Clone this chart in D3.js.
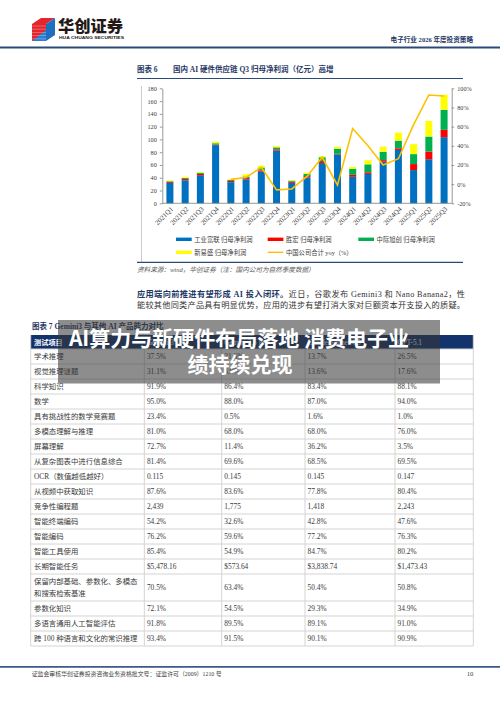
<!DOCTYPE html>
<html><head><meta charset="utf-8">
<script src="https://cdn.jsdelivr.net/npm/d3@7"></script>
<style>
html,body{margin:0;padding:0;background:#fff;}
svg{display:block;}
</style></head><body>
<svg id="page" width="500" height="706"></svg>
<script>
// ---------------- DATA ----------------
const quarters = ['2021Q1','2021Q2','2021Q3','2021Q4','2022Q1','2022Q2','2022Q3','2022Q4','2023Q1','2023Q2','2023Q3','2023Q4','2024Q1','2024Q2','2024Q3','2024Q4','2025Q1','2025Q2','2025Q3'];
const foxconnProfit   = [32,36,44,91,33,37.5,49.5,82.5,32,40.5,63,76.5,41.5,46,65,83.5,52,69,103.5];
const victoryProfit   = [1.5,2,2,1,2,2,2,2,2,2,3,1,3,2.5,2.6,2.6,9.4,12,11.5];
const innolightProfit = [1,1.5,1.5,2,1.5,2.5,4.5,3,1.5,3.5,6,8,9.5,12.5,13,12,15.6,23.5,31.3];
const eoptolinkProfit = [1.5,1.5,1.5,2.5,1,3.5,3,2,1,2,2,3,3,6.5,7.8,12.5,15.6,24.5,23.5];
const yoyPct = [null,null,null,null,5,7,17.5,-6,-5,8,28,-1,58,40,20,26.5,62,93,92];
const seriesNames = ['工业富联 归母净利润','胜宏 归母净利润','中际旭创 归母净利润','新易盛 归母净利润'];
const lineName = '中国公司合计 yoy（%）';
const leftTicks = [0,20,40,60,80,100,120,140,160,180];
const rightTicks = [-20,0,20,40,60,80,100];

const tableHeader = ['测试项目','Gemini 3 Pro','Gemini 2.5 Pro','Claude Sonnet 4.5','GPT-5.1'];
const tableItems = ['学术推理','视觉推理谜题','科学知识','数学','具有挑战性的数学竞赛题','多模态理解与推理','屏幕理解','从复杂图表中进行信息综合','OCR（数值越低越好）','从视频中获取知识','竞争性编程题','智能终端编码','智能编码','智能工具使用','长期智能任务','保留内部基础、参数化、多模态\n和搜索检索基准','参数化知识','多语言通用人工智能评估','跨 100 种语言和文化的常识推理'];
const gemini3  = ['37.5%','31.1%','91.9%','95.0%','23.4%','81.0%','72.7%','81.4%','0.115','87.6%','2,439','54.2%','76.2%','85.4%','$5,478.16','70.5%','72.1%','91.8%','93.4%'];
const gemini25 = ['21.6%','4.9%','86.4%','88.0%','0.5%','68.0%','11.4%','69.6%','0.145','83.6%','1,775','32.6%','59.6%','54.9%','$573.64','63.4%','54.5%','89.5%','91.5%'];
const claude45 = ['13.7%','13.6%','83.4%','87.0%','1.6%','68.0%','36.2%','68.5%','0.145','77.8%','1,418','42.8%','77.2%','84.7%','$3,838.74','50.4%','29.3%','89.1%','90.1%'];
const gpt51    = ['26.5%','17.6%','88.1%','94.0%','1.0%','76.0%','3.5%','69.5%','0.147','80.4%','2,243','47.6%','76.3%','80.2%','$1,473.43','50.8%','34.9%','91.0%','90.9%'];

// ---------------- STYLE ----------------
const SERIF = "'Liberation Serif','Noto Sans CJK SC',serif";
const SANS = "'Noto Sans CJK SC',sans-serif";
const NAVY = '#1f3864';
const barColors = ['#0070C0','#FF0000','#00B050','#FFFF00'];
const lineColor = '#FFC000';

const svg = d3.select('#page');
svg.append('rect').attr('width',500).attr('height',706).attr('fill','#fff');

// ---------------- HEADER ----------------
const logo = svg.append('g');
logo.append('polygon').attr('points','32,24 41,18 55,18 46,24').attr('fill','#e3262b');
logo.append('polygon').attr('points','46,24 55,18 55,35 46,41').attr('fill','#1f6fc0');
logo.append('polygon').attr('points','32,24 46,24 46,41 32,41').attr('fill','#e3262b');
logo.append('polygon').attr('points','32,41 46,30 46,41').attr('fill','#2a7fd0');
for (let i=0;i<5;i++){
  logo.append('line').attr('x1',32).attr('x2',46).attr('y1',26+i*3.2).attr('y2',26+i*3.2).attr('stroke','#fff').attr('stroke-width',0.5).attr('opacity',0.6);
}
svg.append('text').attr('x',58).attr('y',32).attr('font-family',SANS).attr('font-weight',900)
  .attr('font-size',16).attr('textLength',65).attr('lengthAdjust','spacingAndGlyphs').attr('fill','#231815').text('华创证券');
svg.append('text').attr('x',59).attr('y',39.3).attr('font-family',"'Liberation Sans',sans-serif").attr('font-weight',700)
  .attr('font-size',4).attr('textLength',65).attr('lengthAdjust','spacingAndGlyphs').attr('fill','#231815').text('HUA CHUANG SECURITIES');
svg.append('text').attr('x',473).attr('y',41.5).attr('text-anchor','end').attr('font-family',SERIF).attr('font-weight',700)
  .attr('font-size',6.6).attr('fill',NAVY).text('电子行业 2026 年度投资策略');
svg.append('line').attr('x1',0).attr('x2',500).attr('y1',47.5).attr('y2',47.5).attr('stroke','#2c4a78').attr('stroke-width',1.8);

// ---------------- FIGURE 6 TITLE ----------------
const t6 = svg.append('text').attr('x',137).attr('y',71.5).attr('font-family',SERIF).attr('font-weight',700)
  .attr('font-size',7.5).attr('fill',NAVY);
t6.append('tspan').text('图表 6');
t6.append('tspan').attr('x',173).text('国内 AI 硬件供应链 Q3 归母净利润（亿元）高增');
svg.append('line').attr('x1',137).attr('x2',463).attr('y1',78.5).attr('y2',78.5).attr('stroke','#2c4a78').attr('stroke-width',1.2);

// chart frame left border
svg.append('line').attr('x1',141.5).attr('x2',141.5).attr('y1',86).attr('y2',262).attr('stroke','#bfbfbf').attr('stroke-width',0.8);

// ---------------- CHART ----------------
const x = d3.scaleBand().domain(quarters).range([162.3,451.7]).paddingInner(0.54).paddingOuter(0.27);
const yL = d3.scaleLinear().domain([0,180]).range([203.3,88.3]);
const yR = d3.scaleLinear().domain([-20,100]).range([203.3,88.3]);

const rows = quarters.map((q,i)=>({q, s0:foxconnProfit[i], s1:victoryProfit[i], s2:innolightProfit[i], s3:eoptolinkProfit[i], yoy:yoyPct[i]}));
const stack = d3.stack().keys(['s0','s1','s2','s3'])(rows);

const chart = svg.append('g');
chart.selectAll('g.layer').data(stack).join('g').attr('class','layer')
  .attr('fill',(d,i)=>barColors[i])
  .selectAll('rect').data(d=>d).join('rect')
  .attr('x',d=>x(d.data.q)).attr('width',x.bandwidth())
  .attr('y',d=>yL(d[1])).attr('height',d=>yL(d[0])-yL(d[1]));

const line = d3.line().defined(d=>d.yoy!=null).x(d=>x(d.q)+x.bandwidth()/2).y(d=>yR(d.yoy));
chart.append('path').datum(rows).attr('d',line).attr('fill','none').attr('stroke',lineColor).attr('stroke-width',1.6).attr('stroke-linejoin','miter');

// axes
const axL = chart.append('g').attr('transform','translate(162.3,0)')
  .call(d3.axisLeft(yL).tickValues(leftTicks).tickSize(2.5).tickPadding(3).tickSizeOuter(0));
const axR = chart.append('g').attr('transform','translate(451.7,0)')
  .call(d3.axisRight(yR).tickValues(rightTicks).tickFormat(d=>d+'%').tickSize(2.5).tickPadding(3).tickSizeOuter(0));
const axB = chart.append('g').attr('transform','translate(0,203.3)')
  .call(d3.axisBottom(x).tickSize(0).tickSizeOuter(0));
axB.select('.domain').attr('d','M162.3,0H451.7');
axB.selectAll('text').attr('x',0).attr('y',0).attr('dy','0.35em')
  .attr('transform','translate(2,4.5) rotate(-45)').attr('text-anchor','end');
[axL,axR,axB].forEach(a=>{
  a.selectAll('.domain').attr('stroke','#7f7f7f').attr('stroke-width',0.8);
  a.selectAll('.tick line').attr('stroke','#7f7f7f').attr('stroke-width',0.8);
  a.selectAll('text').attr('font-family',SERIF).attr('font-size',6.2).attr('fill','#404040');
});
axB.selectAll('text').attr('font-size',7);

// legend
const legendPos = [[176,239.3],[267.7,239.3],[358.3,239.3],[176,252.3]];
const lg = svg.append('g');
seriesNames.forEach((n,i)=>{
  const [lx,ly] = legendPos[i];
  lg.append('rect').attr('x',lx).attr('y',ly-1.7).attr('width',15.7).attr('height',3.4).attr('fill',barColors[i]);
  lg.append('text').attr('x',lx+18.3).attr('y',ly+2.2).attr('font-family',SERIF).attr('font-size',6.3).attr('fill','#404040').text(n);
});
lg.append('line').attr('x1',267.7).attr('x2',283.4).attr('y1',252.3).attr('y2',252.3).attr('stroke',lineColor).attr('stroke-width',1.4);
lg.append('text').attr('x',286).attr('y',254.5).attr('font-family',SERIF).attr('font-size',6.3).attr('fill','#404040').text(lineName);

svg.append('line').attr('x1',137).attr('x2',463).attr('y1',262.3).attr('y2',262.3).attr('stroke','#2c4a78').attr('stroke-width',1.2);
svg.append('text').attr('x',137).attr('y',271.5).attr('font-family',SERIF).attr('font-style','italic')
  .attr('font-size',6.6).attr('fill','#595959').text('资料来源：wind，华创证券（注：国内公司为自然季度数据）');

// ---------------- PARAGRAPH ----------------
const p1 = svg.append('text').attr('x',137).attr('y',296.5).attr('font-family',SERIF).attr('font-size',8.2)
  .attr('textLength',328).attr('lengthAdjust','spacing');
p1.append('tspan').attr('font-weight',700).attr('fill',NAVY).text('应用端向前推进有望形成 AI 投入闭环。');
p1.append('tspan').attr('fill','#333').text('近日，谷歌发布 Gemini3 和 Nano Banana2，性');
svg.append('text').attr('x',137).attr('y',307.8).attr('font-family',SERIF).attr('font-size',8.2).attr('fill','#333')
  .attr('textLength',328).attr('lengthAdjust','spacing')
  .text('能较其他同类产品具有明显优势，应用的进步有望打消大家对巨额资本开支投入的质疑。');

// ---------------- FIGURE 7 ----------------
svg.append('text').attr('x',32).attr('y',328.8).attr('font-family',SERIF).attr('font-weight',700)
  .attr('font-size',7.5).attr('fill',NAVY).text('图表 7   Gemini3 与其他 AI 产品能力对比');

const colX = [30.7,144.3,221.7,305,395,473.3];
const tbl = svg.append('g');
const headTop = 335, headH = 14;
tbl.append('rect').attr('x',colX[0]).attr('y',headTop).attr('width',colX[5]-colX[0]).attr('height',headH).attr('fill','#12336b');
tableHeader.forEach((h,j)=>{
  tbl.append('text').attr('x',colX[j]+(j===0?3.3:2.6)).attr('y',headTop+headH/2+2.6)
    .attr('font-family',SERIF).attr('font-size',7.2).attr('font-weight',j===0?700:400).attr('fill','#fff').text(h);
});
const cols = [gemini3,gemini25,claude45,gpt51];
let yy = headTop+headH;
const rowTops = [];
tableItems.forEach((item,i)=>{
  const lines = item.split('\n');
  const h = lines.length>1 ? 27 : 15;
  rowTops.push(yy);
  const mid = yy + h/2;
  lines.forEach((ln,k)=>{
    const ty = lines.length>1 ? mid + (k===0?-5.8:5.8) + 2.6 : mid + 2.6;
    tbl.append('text').attr('x',colX[0]+3.3).attr('y',ty).attr('font-family',SERIF).attr('font-size',7.4)
      .attr('fill','#3a3a3a').text(ln);
  });
  cols.forEach((c,j)=>{
    tbl.append('text').attr('x',colX[j+1]+2.6).attr('y',mid+2.6).attr('font-family',SERIF).attr('font-size',7.4)
      .attr('fill','#3a3a3a').text(c[i]);
  });
  yy += h;
});
rowTops.push(yy);
const gridC = '#d4d4d4';
rowTops.forEach(t=>{
  tbl.append('line').attr('x1',colX[0]).attr('x2',colX[5]).attr('y1',t).attr('y2',t).attr('stroke',gridC).attr('stroke-width',1);
});
colX.forEach((cx,j)=>{
  tbl.append('line').attr('x1',cx).attr('x2',cx).attr('y1',j===0||j===5?headTop:headTop+headH).attr('y2',yy).attr('stroke',gridC).attr('stroke-width',1);
});

// ---------------- OVERLAY ----------------
svg.append('rect').attr('x',58).attr('y',320).attr('width',382).attr('height',63.5).attr('fill','rgb(55,55,55)').attr('fill-opacity',0.57);
const ov = svg.append('g').attr('font-family',SANS).attr('font-weight',700).attr('fill','#fff').attr('font-size',21).attr('text-anchor','middle');
ov.append('text').attr('x',239).attr('y',346).text('AI算力与新硬件布局落地 消费电子业');
ov.append('text').attr('x',240).attr('y',372).text('绩持续兑现');

// ---------------- FOOTER ----------------
svg.append('line').attr('x1',0).attr('x2',500).attr('y1',666.8).attr('y2',666.8).attr('stroke','#3c5a88').attr('stroke-width',1.8);
svg.append('text').attr('x',31.7).attr('y',675.6).attr('font-family',SERIF).attr('font-size',5.9).attr('fill','#404040')
  .text('证监会审核华创证券投资咨询业务资格批文号：证监许可（2009）1210 号');
svg.append('text').attr('x',473.3).attr('y',675.8).attr('text-anchor','end').attr('font-family',SERIF).attr('font-size',6.6).attr('fill','#404040').text('10');
</script>
</body></html>
